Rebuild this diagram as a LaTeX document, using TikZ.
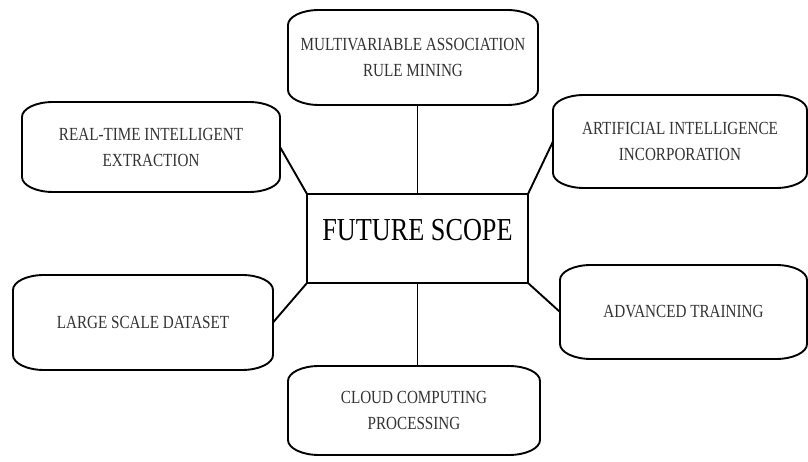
\documentclass[tikz,border=0pt]{standalone}
\usepackage{fontspec}
\setmainfont{Liberation Serif}[FakeStretch=0.82]
\usetikzlibrary{positioning}

\begin{document}
\begin{tikzpicture}[x=1pt,y=1pt,
idea/.style={
  minimum width=254pt, minimum height=92pt,
  inner sep=0pt, outer sep=0pt,
  align=center, text=black!80,
  font=\fontsize{18.5}{26}\selectfont
},
hub/.style={
  draw, line width=1.9pt,
  minimum width=221pt, minimum height=89pt,
  inner sep=0pt, outer sep=0pt,
  text height=25pt, text depth=20pt,
  font=\fontsize{32}{38}\selectfont
},
link/.style={line width=1.9pt}]
\useasboundingbox (0,0) rectangle (808,462);

% centre box
\node (fs) [hub] at (417.5,223.5) {FUTURE SCOPE};

% the six ideas round it
\node (mar) [idea, minimum width=250pt, minimum height=95pt] at (413,404.5)
  {MULTIVARIABLE ASSOCIATION\\RULE MINING};
\node (ext) [idea, minimum width=258pt, minimum height=90pt] at (151,315)
  {REAL-TIME INTELLIGENT\\EXTRACTION};
\node (aic) [idea, minimum height=93pt] at (680,320.5)
  {ARTIFICIAL INTELLIGENCE\\INCORPORATION};
\node (lsd) [idea, minimum width=260pt, minimum height=95pt] at (143,139.5)
  {LARGE SCALE DATASET};
\node (adv) [idea, minimum width=247pt, minimum height=94pt] at (683.5,150)
  {ADVANCED TRAINING};
\node (ccp) [idea, minimum width=252pt, minimum height=89pt] at (414,51.5)
  {CLOUD COMPUTING\\PROCESSING};

% rounded outlines, wide corners
\foreach \n in {mar,ext,aic,lsd,adv,ccp}
  \draw[link] ([xshift=31pt]\n.north west) -- ([xshift=-31pt]\n.north east)
    arc[start angle=90, end angle=0, x radius=31pt, y radius=15pt]
    -- ([yshift=15pt]\n.south east)
    arc[start angle=0, end angle=-90, x radius=31pt, y radius=15pt]
    -- ([xshift=31pt]\n.south west)
    arc[start angle=270, end angle=180, x radius=31pt, y radius=15pt]
    -- ([yshift=-15pt]\n.north west)
    arc[start angle=180, end angle=90, x radius=31pt, y radius=15pt]
    -- cycle;

% spokes
\draw[link] (mar.south -| fs.north) -- (fs.north);
\draw[link] (ext.east) -- (fs.north west);
\draw[link] (aic.west) -- (fs.north east);
\draw[link] (lsd.east) -- (fs.south west);
\draw[link] (adv.west) -- (fs.south east);
\draw[link] (fs.south) -- (fs.south |- ccp.north);
\end{tikzpicture}
\end{document}
